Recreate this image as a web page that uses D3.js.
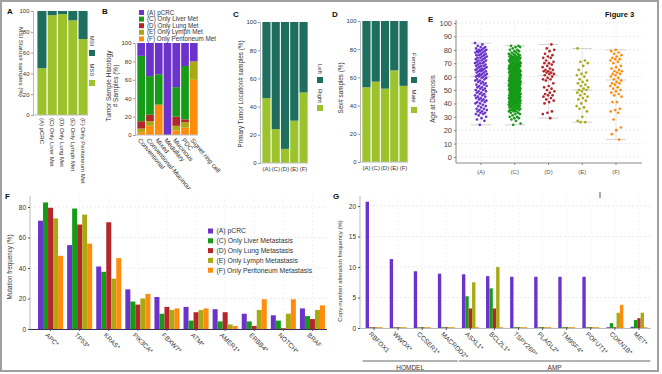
<!DOCTYPE html>
<html>
<head>
<meta charset="utf-8">
<script src="https://cdn.jsdelivr.net/npm/d3@7"></script>
<style>
  body { margin: 0; background: #fff; }
  svg { display: block; font-family: "Liberation Sans", Arial, sans-serif; }
</style>
</head>
<body>
<div id="fig"></div>
<script>
// ---------- data ----------
const groupsLong = ["(A) pCRC", "(C) Only Liver Met", "(D) Only Lung Met", "(E) Only Lymph Met", "(F) Only Peritoneum Met"];
const groupsShort = ["(A)", "(C)", "(D)", "(E)", "(F)"];

// A: MSI status (%)
const msiMSS = [45, 96, 97, 91, 73];
const msiMSI = [55, 4, 3, 9, 27];

// B: histology (%) per histology type, one array per sample group
const histCats = ["Conventional", "Conventional-Mucinous", "Mixed", "Medullary", "Mucinous", "PDC", "Signet ring cell"];
const histA = [14, 36, 34, 100, 48, 25, 20];
const histC = [71, 42, 33, 0, 32, 58, 0];
const histD = [8, 7, 0, 0, 10, 3, 0];
const histE = [4, 5, 0, 0, 5, 6, 20];
const histF = [3, 10, 33, 0, 5, 8, 60];

// C: primary tumour location (%)
const locRight = [46, 24, 10, 30, 50];
const locLeft = [54, 76, 90, 70, 50];

// D: sex (%)
const sexMale = [53, 57, 52, 65, 54];
const sexFemale = [47, 43, 48, 35, 46];

// E: age at diagnosis
const ageA = [85,84,83,82,82,81,81,80,80,80,79,79,79,78,78,78,77,77,76,76,76,75,75,74,74,74,73,73,72,72,72,71,71,70,70,70,69,69,68,68,68,67,67,66,66,66,65,65,65,64,64,64,63,63,62,62,62,61,61,61,60,60,60,59,59,58,58,57,57,56,56,55,55,54,54,53,53,52,52,51,51,50,50,49,49,48,48,47,47,46,46,45,45,44,44,43,43,42,42,41,41,40,40,39,38,38,37,36,36,35,35,34,34,33,33,32,32,31,30,29,28,27,24];
const ageC = [24,25,27,28,29,29,30,30,31,32,32,33,33,34,34,34,
  35,35,35,35,36,36,36,36,37,37,37,37,37,38,38,38,38,38,39,39,39,39,39,
  40,40,40,40,40,40,41,41,41,41,41,41,42,42,42,42,42,42,42,43,43,43,43,43,43,44,44,44,44,44,44,44,
  45,45,45,45,45,45,45,46,46,46,46,46,46,47,47,47,47,47,47,47,48,48,48,48,48,48,49,49,49,49,49,49,
  50,50,50,50,50,50,50,51,51,51,51,51,51,51,52,52,52,52,52,52,52,53,53,53,53,53,53,53,54,54,54,54,54,54,54,
  55,55,55,55,55,55,55,56,56,56,56,56,56,56,57,57,57,57,57,57,57,58,58,58,58,58,58,58,59,59,59,59,59,59,59,
  60,60,60,60,60,60,61,61,61,61,61,61,62,62,62,62,62,62,63,63,63,63,63,63,64,64,64,64,64,64,
  65,65,65,65,65,65,66,66,66,66,66,66,67,67,67,67,67,67,68,68,68,68,68,68,69,69,69,69,69,69,
  70,70,70,70,70,71,71,71,71,71,72,72,72,72,72,73,73,73,73,73,74,74,74,74,74,75,75,75,75,75,
  76,76,76,77,77,77,78,78,79,79,80,80,81,82,82,83,83];
const ageD = [84,81,80,79,77,76,75,74,74,72,71,70,70,69,68,67,66,65,65,64,64,63,63,62,62,61,60,59,58,58,57,55,53,52,51,50,49,48,47,46,46,45,44,43,42,41,40,34,33,32,29];
const ageE = [81,72,71,70,68,65,63,62,61,60,58,57,56,55,54,53,52,51,50,50,49,48,47,46,45,44,43,42,40,38,37,36,34,30,27,26,26];
const ageF = [80,79,78,77,76,75,74,73,73,72,71,70,68,67,66,65,64,64,63,62,62,61,60,59,58,57,56,55,55,54,53,52,51,50,49,48,47,46,45,41,41,36,35,34,33,28,22,20,17,13];

// F: mutation frequency (%)
const mutGenes = ["APC*", "TP53*", "KRAS*", "PIK3CA*", "FBXW7*", "ATM*", "AMER1*", "ERBB4*", "NOTCH*", "BRAF"];
const mutA = [71, 55, 41, 26, 21, 14.5, 13, 10, 9, 13.5];
const mutC = [83, 79, 37.5, 18, 10, 5.5, 5, 5, 5.5, 8.5];
const mutD = [79.5, 68.5, 70, 16, 14.5, 11, 11, 2, 0.5, 6.5];
const mutE = [72.5, 75, 33, 20, 12.5, 12.5, 3, 12.5, 10, 12.5];
const mutF = [48, 56, 46.5, 23, 13.5, 13.5, 2, 19.5, 19.5, 15.5];

// G: copy-number alteration frequency (%)
const cnaGenes = ["RBFOX1", "WWOX*", "CCSER1*", "MACROD2*", "ASXL1*", "BCL2L1*", "TSPY26P*", "PLAGL2*", "TM9SF4*", "POFUT1*", "CDKN1B*", "MET*"];
const cnaA = [20.7, 11.3, 9.3, 8.9, 8.8, 8.5, 8.4, 8.4, 8.4, 8.4, 0, 0.2];
const cnaC = [0, 0, 0, 0, 5.2, 6.5, 0, 0, 0, 0, 0.8, 1.3];
const cnaD = [0, 0, 0, 0, 3.2, 3.2, 0, 0, 0, 0, 0, 1.6];
const cnaE = [0, 0, 0, 0, 7.5, 10, 0, 0, 0, 0, 2.5, 2.5];
const cnaF = [0, 0, 0, 0, 0, 0, 0, 0, 0, 0, 3.8, 0];
const cnaTypes = [{name: "HOMDEL", from: "RBFOX1", to: "MACROD2*"}, {name: "AMP", from: "ASXL1*", to: "MET*"}];

// ---------- styling ----------
const grpKeys = ["A", "C", "D", "E", "F"];
const grpColor = {A: "#6b33cc", C: "#169a17", D: "#b3262a", E: "#a9a914", F: "#ff8c0c"};
const teal = "#1d6e5f", lime = "#9dc32c";
const txt = "#333";

const svg = d3.select("#fig").append("svg")
    .attr("width", 662)
    .attr("height", 374);

svg.append("rect").attr("width", 662).attr("height", 374).attr("fill", "#fff");

// helper: left axis styled like the small panels
function leftAxis(g, y, x, ticks, size) {
    const ax = g.append("g")
        .attr("transform", `translate(${x},0)`)
        .call(d3.axisLeft(y).tickValues(ticks).tickSize(2).tickPadding(1.5));
    ax.select(".domain").attr("stroke", "#bbb");
    ax.selectAll(".tick line").attr("stroke", "#999");
    ax.selectAll(".tick text").attr("fill", txt).style("font-size", size + "px");
    return ax;
}

function panelLabel(t, x, y) {
    svg.append("text").attr("x", x).attr("y", y).text(t)
        .style("font-size", "8px").style("font-weight", "bold").attr("fill", "#111");
}

function yTitle(lines, x, y, rot, size) {
    const t = svg.append("text")
        .attr("transform", `translate(${x},${y}) rotate(${rot})`)
        .attr("text-anchor", "middle")
        .attr("fill", txt)
        .style("font-size", size + "px");
    lines.forEach((l, i) => t.append("tspan").attr("x", 0).attr("dy", i ? "1.15em" : 0).text(l));
}

// two-part 100% stacked bars (A, C, D)
function twoStack(opt) {
    const y = d3.scaleLinear([0, 100], [opt.yBot, opt.yTop]);
    const x = d3.scaleBand(opt.cats, [opt.x0, opt.x1]).paddingInner(0.12).paddingOuter(0.04);
    const g = svg.append("g");
    opt.cats.forEach((c, i) => {
        g.append("rect").attr("x", x(c)).attr("width", x.bandwidth())
            .attr("y", y(opt.bottom[i])).attr("height", y(0) - y(opt.bottom[i]))
            .attr("fill", lime);
        g.append("rect").attr("x", x(c)).attr("width", x.bandwidth())
            .attr("y", y(opt.bottom[i] + opt.top[i])).attr("height", y(opt.bottom[i]) - y(opt.bottom[i] + opt.top[i]))
            .attr("fill", teal);
    });
    leftAxis(g, y, opt.axisX, [0, 20, 40, 60, 80, 100], 6);
    g.append("line").attr("x1", opt.axisX).attr("x2", opt.x1).attr("y1", y(0)).attr("y2", y(0)).attr("stroke", "#bbb");
    // legend: two keys with rotated labels
    opt.legend.forEach((L, i) => {
        g.append("rect").attr("x", opt.legX - 3).attr("y", L.sq).attr("width", 6).attr("height", 6).attr("fill", L.color);
        g.append("text").attr("transform", `translate(${opt.legX},${L.ty}) rotate(90)`)
            .attr("text-anchor", "middle").attr("dy", "0.35em").attr("fill", txt)
            .style("font-size", "6px").text(L.name);
    });
    return {x, y, g};
}

// ---------- Panel A ----------
panelLabel("A", 7, 14);
const pA = twoStack({cats: groupsLong, bottom: msiMSS, top: msiMSI, x0: 37, x1: 88, yTop: 11, yBot: 115, axisX: 33, legX: 92,
    legend: [{name: "MSI", color: teal, sq: 50, ty: 41}, {name: "MSS", color: lime, sq: 80, ty: 70}]});
groupsLong.forEach(c => {
    const cx = pA.x(c) + pA.x.bandwidth() / 2;
    pA.g.append("text").attr("transform", `translate(${cx},118) rotate(90)`)
        .attr("dy", "0.35em").attr("fill", txt).style("font-size", "6px").text(c);
});
yTitle(["MSI Status# samples (%)"], 19, 62, 90, 6.2);

// ---------- Panel B ----------
panelLabel("B", 102, 14);
const yB = d3.scaleLinear([0, 100], [135, 43]);
const xB = d3.scaleBand(histCats, [137, 198]).paddingInner(0.12).paddingOuter(0.04);
const histRows = histCats.map((c, i) => ({cat: c, A: histA[i], C: histC[i], D: histD[i], E: histE[i], F: histF[i]}));
const stackB = d3.stack().keys(["F", "E", "D", "C", "A"])(histRows);
const gB = svg.append("g");
gB.selectAll("g.layer").data(stackB).join("g")
    .attr("fill", d => grpColor[d.key])
    .selectAll("rect").data(d => d).join("rect")
    .attr("x", d => xB(d.data.cat))
    .attr("width", xB.bandwidth())
    .attr("y", d => yB(d[1]))
    .attr("height", d => yB(d[0]) - yB(d[1]));
leftAxis(gB, yB, 135, [0, 20, 40, 60, 80, 100], 6);
gB.append("line").attr("x1", 135).attr("x2", 198).attr("y1", yB(0)).attr("y2", yB(0)).attr("stroke", "#bbb");
svg.append("clipPath").attr("id", "clipB").append("rect").attr("x", 100).attr("y", 0).attr("width", 130).attr("height", 189);
const labB = svg.append("g").attr("clip-path", "url(#clipB)");
histCats.forEach(c => {
    const cx = xB(c) + xB.bandwidth() / 2;
    labB.append("text").attr("transform", `translate(${cx - 2},139) rotate(50)`)
        .attr("dy", "0.35em").attr("fill", txt).style("font-size", "6.5px").text(c);
});
yTitle(["Tumor Sample Histology", "# Samples (%)"], 111, 86, -90, 6.5);
groupsLong.forEach((name, i) => {
    const yy = 10 + i * 6.6;
    svg.append("rect").attr("x", 139).attr("y", yy).attr("width", 5).attr("height", 5).attr("fill", grpColor[grpKeys[i]]);
    svg.append("text").attr("x", 147).attr("y", yy + 4.6).attr("fill", txt).style("font-size", "6.3px").text(name);
});

// ---------- Panel C ----------
panelLabel("C", 233, 17);
const pC = twoStack({cats: groupsShort, bottom: locRight, top: locLeft, x0: 262, x1: 308, yTop: 22, yBot: 163, axisX: 260, legX: 320,
    legend: [{name: "Left", color: teal, sq: 77, ty: 69}, {name: "Right", color: lime, sq: 105, ty: 96}]});
groupsShort.forEach(c => {
    pC.g.append("text").attr("x", pC.x(c) + pC.x.bandwidth() / 2).attr("y", 171)
        .attr("text-anchor", "middle").attr("fill", txt).style("font-size", "6px").text(c);
});
yTitle(["Primary Tumor Location# samples (%)"], 243, 94, -90, 6.3);

// ---------- Panel D ----------
panelLabel("D", 332, 17);
const pD = twoStack({cats: groupsShort, bottom: sexMale, top: sexFemale, x0: 362, x1: 408, yTop: 21, yBot: 162, axisX: 360, legX: 414,
    legend: [{name: "Female", color: teal, sq: 77, ty: 63}, {name: "Male", color: lime, sq: 107, ty: 96}]});
groupsShort.forEach(c => {
    pD.g.append("text").attr("x", pD.x(c) + pD.x.bandwidth() / 2).attr("y", 170)
        .attr("text-anchor", "middle").attr("fill", txt).style("font-size", "6px").text(c);
});
yTitle(["Sex# samples (%)"], 343, 88, -90, 6.3);

// ---------- Panel E ----------
panelLabel("E", 428, 22);
svg.append("text").attr("x", 605).attr("y", 17).text("Figure 3")
    .style("font-size", "7.5px").style("font-weight", "bold").attr("fill", "#111");
const yE = d3.scaleLinear([0, 100], [157, 23]);
const xE = d3.scalePoint(groupsShort, [481, 616]);
const gE = svg.append("g");
d3.range(0, 101, 10).forEach(v => {
    gE.append("line").attr("x1", 457).attr("x2", 642).attr("y1", yE(v)).attr("y2", yE(v))
        .attr("stroke", "#ebebeb").attr("stroke-dasharray", "2,2");
});
groupsShort.forEach(c => {
    gE.append("line").attr("x1", xE(c)).attr("x2", xE(c)).attr("y1", 20).attr("y2", 163)
        .attr("stroke", "#f0f0f0").attr("stroke-dasharray", "2,2");
});
const axE = gE.append("g").attr("transform", "translate(456,0)")
    .call(d3.axisLeft(yE).tickValues(d3.range(0, 101, 10)).tickSize(2).tickPadding(2));
axE.select(".domain").attr("stroke", "#888").attr("d", "M0,20V163");
axE.selectAll(".tick line").attr("stroke", "#888");
axE.selectAll(".tick text").attr("fill", "#444").style("font-size", "7.5px");
gE.append("line").attr("x1", 456).attr("x2", 642).attr("y1", 163).attr("y2", 163).attr("stroke", "#888");
groupsShort.forEach(c => {
    gE.append("line").attr("x1", xE(c)).attr("x2", xE(c)).attr("y1", 163).attr("y2", 165).attr("stroke", "#888");
    gE.append("text").attr("x", xE(c)).attr("y", 174).attr("text-anchor", "middle")
        .attr("fill", "#555").style("font-size", "6px").text(c);
});
const ages = [ageA, ageC, ageD, ageE, ageF];
ages.forEach((arr, gi) => {
    const c = groupsShort[gi];
    const cx = xE(c);
    const col = grpColor[grpKeys[gi]];
    const lo = d3.min(arr), hi = d3.max(arr), med = d3.median(arr);
    gE.append("line").attr("x1", cx).attr("x2", cx).attr("y1", yE(lo)).attr("y2", yE(hi)).attr("stroke", "#e4e4e4");
    [lo, med, hi].forEach(v => {
        gE.append("line").attr("x1", cx - 10).attr("x2", cx + 10).attr("y1", yE(v)).attr("y2", yE(v))
            .attr("stroke", "#d2d2d2").attr("stroke-width", 1);
    });
    // spread points sideways (low-discrepancy offsets, position only)
    gE.append("g").selectAll("circle").data(arr).join("circle")
        .attr("cx", (d, i) => cx + (((i * 0.6180339 + gi * 0.37) % 1) - 0.5) * 12)
        .attr("cy", d => yE(d))
        .attr("r", 1.35)
        .attr("fill", col);
});
yTitle(["Age at Diagnosis"], 435, 99, -90, 6.3);

// ---------- grouped bars (F, G) ----------
function groupedBars(opt) {
    const g = svg.append("g");
    const xg = d3.scaleBand(opt.genes, [opt.x0, opt.x1]).paddingInner(opt.padIn).paddingOuter(opt.padOut);
    const xs = d3.scaleBand(grpKeys, [0, xg.bandwidth()]);
    const y = opt.y;
    opt.ticks.forEach(v => {
        g.append("line").attr("x1", opt.axisX).attr("x2", opt.x1).attr("y1", y(v)).attr("y2", y(v))
            .attr("stroke", "#ececec").attr("stroke-dasharray", "2,2");
    });
    opt.genes.forEach(gn => {
        const cx = xg(gn) + xg.bandwidth() / 2;
        g.append("line").attr("x1", cx).attr("x2", cx).attr("y1", opt.top).attr("y2", y(0))
            .attr("stroke", "#f2f2f2").attr("stroke-dasharray", "2,2");
    });
    const rows = opt.genes.map((gn, i) => ({gene: gn, vals: grpKeys.map((k, j) => ({k, v: opt.series[j][i]}))}));
    g.selectAll("g.grp").data(rows).join("g")
        .attr("transform", d => `translate(${xg(d.gene)},0)`)
        .selectAll("rect").data(d => d.vals).join("rect")
        .attr("x", d => xs(d.k))
        .attr("width", xs.bandwidth())
        .attr("y", d => Math.min(y(d.v), y(0) - 0.8))
        .attr("height", d => Math.max(y(0) - y(d.v), 0.8))
        .attr("fill", d => grpColor[d.k]);
    const ax = g.append("g").attr("transform", `translate(${opt.axisX},0)`)
        .call(d3.axisLeft(y).tickValues(opt.ticks).tickSize(2).tickPadding(2));
    ax.select(".domain").attr("stroke", "#bbb").attr("d", `M0,${opt.top}V${y(0)}`);
    ax.selectAll(".tick line").attr("stroke", "#555");
    ax.selectAll(".tick text").attr("fill", txt).style("font-size", "6.5px");
    g.append("line").attr("x1", opt.axisX).attr("x2", opt.x1).attr("y1", y(0) + 0.5).attr("y2", y(0) + 0.5)
        .attr("stroke", opt.baseColor).attr("stroke-width", 1);
    opt.genes.forEach(gn => {
        const cx = xg(gn) + xg.bandwidth() / 2;
        g.append("line").attr("x1", cx).attr("x2", cx).attr("y1", y(0)).attr("y2", y(0) + 2).attr("stroke", "#555");
        g.append("text").attr("transform", `translate(${cx - 4},${y(0) + 5}) rotate(45)`)
            .attr("dy", "0.35em").attr("fill", txt).style("font-size", "6.5px").text(gn);
    });
    return {g, xg};
}

// ---------- Panel F ----------
panelLabel("F", 5, 199);
groupedBars({genes: mutGenes, series: [mutA, mutC, mutD, mutE, mutF], x0: 36, x1: 327, padIn: 0.14, padOut: 0.07,
    y: d3.scaleLinear([0, 80], [329, 207]), ticks: [0, 20, 40, 60, 80], axisX: 30, top: 196, baseColor: "#3b2d5c"});
yTitle(["Mutation frequency (%)"], 12, 267, -90, 6.3);
const legF = ["(A) pCRC", "(C) Only Liver Metastasis", "(D) Only Lung Metastasis", "(E) Only Lymph Metastasis", "(F) Only Peritoneum Metastasis"];
legF.forEach((name, i) => {
    const yy = 228.5 + i * 9.8;
    svg.append("rect").attr("x", 208).attr("y", yy).attr("width", 5).attr("height", 5).attr("fill", grpColor[grpKeys[i]]);
    svg.append("text").attr("x", 216.5).attr("y", yy + 4.8).attr("fill", txt).style("font-size", "6.8px").text(name);
});

// ---------- Panel G ----------
panelLabel("G", 333, 199);
const pG = groupedBars({genes: cnaGenes, series: [cnaA, cnaC, cnaD, cnaE, cnaF], x0: 362, x1: 651, padIn: 0.3, padOut: 0.15,
    y: d3.scaleLinear([0, 20], [328, 206]), ticks: [0, 5, 10, 15, 20], axisX: 360, top: 196, baseColor: "#bbb"});
yTitle(["Copy-number alteration frequency (%)"], 342, 271, -90, 6);
cnaTypes.forEach(t => {
    const a = pG.xg(t.from), b = pG.xg(t.to) + pG.xg.bandwidth();
    svg.append("line").attr("x1", a - 3).attr("x2", b + 3).attr("y1", 361).attr("y2", 361).attr("stroke", "#666");
    svg.append("text").attr("x", (a + b) / 2).attr("y", 369.5).attr("text-anchor", "middle")
        .attr("fill", txt).style("font-size", "6.5px").text(t.name);
});
svg.append("line").attr("x1", 600).attr("x2", 600).attr("y1", 192).attr("y2", 198).attr("stroke", "#555");

// ---------- frame ----------
svg.append("rect").attr("x", 1).attr("y", 1).attr("width", 657).attr("height", 370)
    .attr("fill", "none").attr("stroke", "#a0a0a0").attr("stroke-width", 2);
</script>
</body>
</html>
